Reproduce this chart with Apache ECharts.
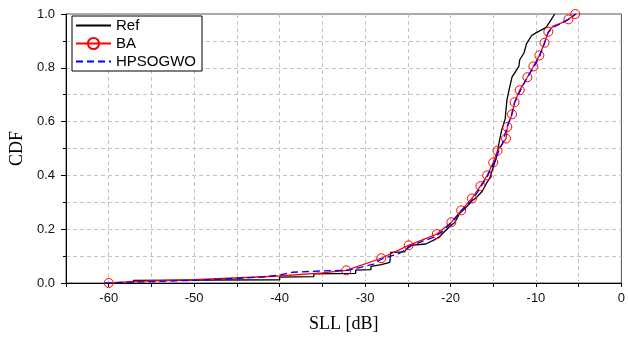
<!DOCTYPE html>
<html>
<head>
<meta charset="utf-8">
<script src="https://cdn.jsdelivr.net/npm/echarts@6/dist/echarts.min.js"></script>
<style>html,body{margin:0;padding:0;background:#fff;}#c{width:628px;height:338px;}</style>
</head>
<body>
<div id="c"></div>
<script>
// Tick labels
const xTicks = [-60, -50, -40, -30, -20, -10, 0];
const yTicks = [0.0, 0.2, 0.4, 0.6, 0.8, 1.0];

// Ref (black)
const refX = [-57.1,-57.1,-40,-40,-36,-36,-31.1,-31.1,-29.3,-29.3,-28.1,-27.1,-27.0,-25.4,-24.8,-22.9,-21.9,-21.3,-20.1,-19.5,-18.9,-18.2,-17.5,-16.9,-16.3,-15.8,-15.4,-14.9,-14.6,-14.3,-14.0,-13.6,-13.4,-13.2,-12.8,-12.0,-11.9,-11.4,-11.1,-10.5,-10.0,-8.8,-8.2,-7.8];
const refY = [0.0,0.01,0.012,0.022,0.024,0.034,0.036,0.048,0.05,0.062,0.068,0.077,0.114,0.116,0.14,0.145,0.16,0.172,0.21,0.225,0.26,0.28,0.305,0.32,0.34,0.37,0.39,0.44,0.47,0.525,0.57,0.61,0.68,0.71,0.765,0.805,0.83,0.855,0.89,0.92,0.93,0.95,0.98,1.0];

// BA (red, circles) ; mark = 1 where a circle is drawn
const baX = [-60,-57,-50,-40,-35,-32.2,-28.1,-24.9,-21.6,-19.9,-18.75,-17.5,-16.5,-15.7,-15.0,-14.5,-13.5,-13.35,-12.8,-12.5,-11.9,-11.0,-10.3,-9.6,-9.0,-8.55,-8.0,-7.0,-6.2,-5.4];
const baY = [0.0,0.006,0.012,0.026,0.038,0.047,0.092,0.14,0.182,0.226,0.27,0.314,0.36,0.40,0.448,0.492,0.537,0.58,0.627,0.672,0.717,0.765,0.805,0.846,0.893,0.934,0.955,0.967,0.98,1.0];
const baMark = [1,0,0,0,0,1,1,1,1,1,1,1,1,1,1,1,1,1,1,1,1,1,1,1,1,1,0,0,1,1];

// HPSOGWO (blue dashed)
const hpX = [-60.5,-57,-50,-42,-40,-38.5,-35,-32,-29,-28,-26,-24.5,-22,-21,-20,-18.8,-17.4,-16.5,-15.8,-15.0,-14.5,-13.9,-13.4,-12.9,-12.5,-11.9,-11.1,-10.3,-9.6,-9.0,-8.6,-8.0,-7.0,-6.2,-5.3];
const hpY = [0.0,0.003,0.01,0.022,0.03,0.04,0.045,0.047,0.07,0.09,0.11,0.14,0.17,0.19,0.22,0.265,0.31,0.355,0.39,0.44,0.48,0.52,0.58,0.62,0.67,0.71,0.76,0.80,0.84,0.89,0.93,0.95,0.965,0.98,1.0];

const refData = refX.map((x, i) => [x, refY[i]]);
const hpData = hpX.map((x, i) => [x, hpY[i]]);
const baData = baX.map((x, i) => baMark[i] ? { value: [x, baY[i]] } : { value: [x, baY[i]], symbol: 'none' });

const chart = echarts.init(document.getElementById('c'), null, { renderer: 'canvas' });
const gridLine = { show: true, lineStyle: { color: '#c4c4c4', type: [4, 3], width: 1 }, showMaxLine: false, showMinLine: false };
chart.setOption({
  animation: false,
  backgroundColor: '#fff',
  grid: { left: 64, right: 2, top: 14, bottom: 52, show: true, borderColor: '#555', borderWidth: 1, backgroundColor: 'transparent' },
  legend: {
    orient: 'vertical', left: 72, top: 16,
    padding: [2, 6, 2, 3], itemGap: 3, itemWidth: 35, itemHeight: 14,
    borderColor: '#000', borderWidth: 1, backgroundColor: '#fff',
    textStyle: { fontFamily: 'Liberation Sans', fontSize: 15, color: '#000' },
    data: [
      { name: 'Ref', itemStyle: { opacity: 0 } },
      { name: 'BA' },
      { name: 'HPSOGWO', itemStyle: { opacity: 0 } }
    ]
  },
  xAxis: {
    type: 'value', min: -65, max: 0, interval: 5,
    axisLine: { show: true, onZero: false, lineStyle: { color: '#000', width: 1 } },
    axisTick: { show: true, length: 4, lineStyle: { color: '#000' } },
    axisLabel: {
      margin: 9, fontFamily: 'Liberation Sans', fontSize: 13, color: '#111',
      formatter: v => xTicks.indexOf(v) >= 0 ? String(v) : ''
    },
    splitLine: gridLine,
    name: 'SLL [dB]', nameLocation: 'middle', nameGap: 32,
    nameTextStyle: { fontFamily: 'Liberation Serif', fontSize: 18, color: '#000' }
  },
  yAxis: {
    type: 'value', min: 0, max: 1, interval: 0.2,
    axisLine: { show: true, onZero: false, lineStyle: { color: '#000', width: 1 } },
    axisTick: { show: true, length: 5, lineStyle: { color: '#000' } },
    minorTick: { show: true, splitNumber: 2, length: 3, lineStyle: { color: '#000' } },
    minorSplitLine: { show: true, lineStyle: { color: '#c4c4c4', type: [4, 3], width: 1 } },
    axisLabel: {
      margin: 11, fontFamily: 'Liberation Sans', fontSize: 13, color: '#111',
      formatter: v => yTicks.some(t => Math.abs(t - v) < 1e-6) ? v.toFixed(1) : ''
    },
    splitLine: gridLine,
    name: 'CDF', nameLocation: 'middle', nameGap: 40,
    nameTextStyle: { fontFamily: 'Liberation Serif', fontSize: 18, color: '#000' }
  },
  series: [
    { name: 'Ref', type: 'line', data: refData, symbol: 'none', color: '#000',
      lineStyle: { color: '#000', width: 1.3 }, z: 3 },
    { name: 'BA', type: 'line', data: baData, symbol: 'circle', symbolSize: 9, color: '#ff0000',
      itemStyle: { color: 'rgba(255,255,255,0)', borderColor: '#ff0000', borderWidth: 1 },
      lineStyle: { color: '#ff0000', width: 1.3 }, z: 4 },
    { name: 'HPSOGWO', type: 'line', data: hpData, symbol: 'none', color: '#0000ff',
      lineStyle: { color: '#0000ff', width: 1.3, type: [7, 4] }, z: 5 }
  ]
});
</script>
</body>
</html>
